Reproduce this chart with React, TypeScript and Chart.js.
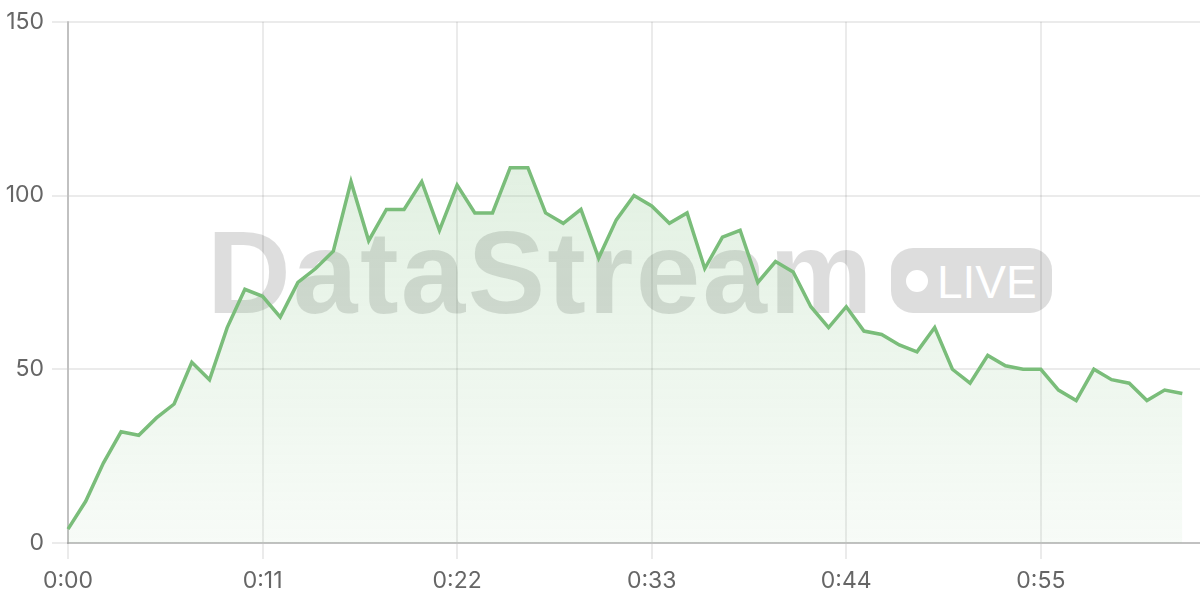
import React, { useEffect, useRef } from "react";
import { Chart, registerables } from "chart.js";

Chart.register(...registerables);

const timeLabels: string[] = [
  "0:00","0:01","0:02","0:03","0:04","0:05","0:06","0:07","0:08","0:09",
  "0:10","0:11","0:12","0:13","0:14","0:15","0:16","0:17","0:18","0:19",
  "0:20","0:21","0:22","0:23","0:24","0:25","0:26","0:27","0:28","0:29",
  "0:30","0:31","0:32","0:33","0:34","0:35","0:36","0:37","0:38","0:39",
  "0:40","0:41","0:42","0:43","0:44","0:45","0:46","0:47","0:48","0:49",
  "0:50","0:51","0:52","0:53","0:54","0:55","0:56","0:57","0:58","0:59",
  "1:00","1:01","1:02","1:03","1:04",
];

const streamValues: number[] = [
  4, 12, 23, 32, 31, 36, 40, 52, 47, 62,
  73, 71, 65, 75, 79, 84, 104, 87, 96, 96,
  104, 90, 103, 95, 95, 108, 108, 95, 92, 96,
  82, 93, 100, 97, 92, 95, 79, 88, 90, 75,
  81, 78, 68, 62, 68, 61, 60, 57, 55, 62,
  50, 46, 54, 51, 50, 50, 44, 41, 50, 47,
  46, 41, 44, 43,
];

const yTicks: number[] = [0, 50, 100, 150];
const labelEvery = 11;

const LINE = "rgb(122, 189, 122)";
const FONT = "Inter, 'Liberation Sans', Arial, sans-serif";
const WM_FONT = "'Liberation Sans', Arial, Helvetica, sans-serif";

export default function App() {
  const canvasRef = useRef<HTMLCanvasElement | null>(null);

  useEffect(() => {
    document.body.style.margin = "0";
    const canvas = canvasRef.current;
    if (!canvas) return;
    const chart = new Chart(canvas, {
      type: "line",
      data: {
        labels: timeLabels,
        datasets: [
          {
            data: streamValues,
            borderColor: LINE,
            borderWidth: 3.5,
            pointRadius: 0,
            tension: 0,
            fill: "origin",
            backgroundColor: (ctx: any) => {
              const c = ctx.chart;
              const area = c.chartArea;
              if (!area) return "rgba(122,189,122,0.15)";
              const g = c.ctx.createLinearGradient(0, area.top, 0, area.bottom);
              g.addColorStop(0, "rgba(122,189,122,0.28)");
              g.addColorStop(1, "rgba(122,189,122,0.06)");
              return g;
            },
          },
        ],
      },
      options: {
        responsive: false,
        animation: false,
        layout: { padding: { top: 9, right: 0, bottom: 0, left: 0 } },
        plugins: { legend: { display: false }, tooltip: { enabled: false } },
        scales: {
          x: {
            type: "category",
            border: { color: "rgba(0,0,0,0.18)", width: 2 },
            grid: { color: "rgba(0,0,0,0.08)", lineWidth: 2, tickLength: 16, drawTicks: true },
            afterFit: (s: any) => {
              s.height = 57;
            },
            ticks: {
              autoSkip: false,
              maxRotation: 0,
              padding: 8,
              color: "#666",
              font: { family: FONT, size: 23 },
              callback: (_v: any, i: number) => (i % labelEvery === 0 ? timeLabels[i] : null),
            },
          },
          y: {
            min: yTicks[0],
            max: yTicks[yTicks.length - 1],
            afterBuildTicks: (s: any) => {
              s.ticks = yTicks.map((v) => ({ value: v }));
            },
            afterFit: (s: any) => {
              s.width = 68;
            },
            border: { color: "rgba(0,0,0,0.18)", width: 2 },
            grid: { color: "rgba(0,0,0,0.08)", lineWidth: 2, tickLength: 16 },
            ticks: {
              padding: 8,
              color: "#666",
              font: { family: FONT, size: 23 },
            },
          },
        },
      },
    });
    return () => chart.destroy();
  }, []);

  const gray = "rgba(0,0,0,0.135)";

  return (
    <div style={{ position: "fixed", left: 0, top: 0, width: 1200, height: 600, background: "#fff", overflow: "hidden" }}>
      <div
        style={{
          position: "absolute",
          left: 207,
          top: 215,
          fontFamily: WM_FONT,
          fontWeight: 700,
          fontSize: 116,
          lineHeight: 1,
          color: gray,
          whiteSpace: "nowrap",
          letterSpacing: 2.3,
        }}
      >
        DataStream
      </div>
      <div
        style={{
          position: "absolute",
          left: 891,
          top: 248,
          width: 161,
          height: 65,
          borderRadius: 22,
          background: gray,
        }}
      >
        <div
          style={{
            position: "absolute",
            left: 15,
            top: 22,
            width: 22,
            height: 22,
            borderRadius: 11,
            background: "#fff",
          }}
        />
        <div
          style={{
            position: "absolute",
            left: 46,
            top: 11,
            fontFamily: WM_FONT,
            fontSize: 46,
            lineHeight: 1,
            color: "#fff",
            whiteSpace: "nowrap",
          }}
        >
          LIVE
        </div>
      </div>
      <canvas ref={canvasRef} width={1200} height={600} style={{ position: "absolute", left: 0, top: 0, width: 1200, height: 600 }} />
    </div>
  );
}
